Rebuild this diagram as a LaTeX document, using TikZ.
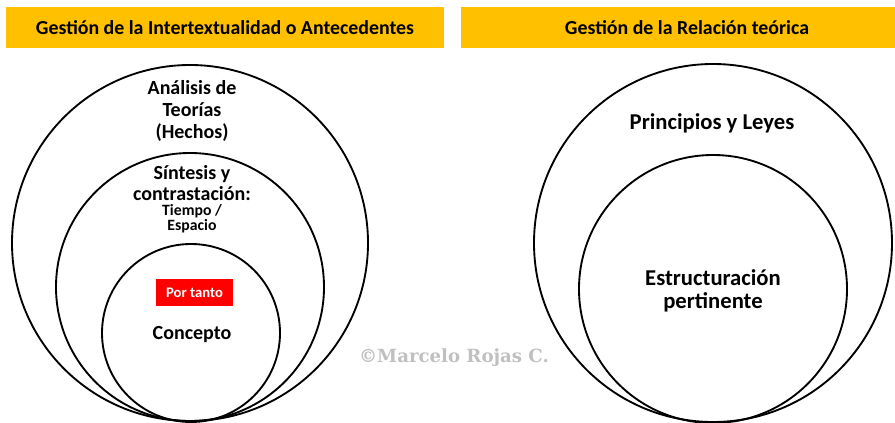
\documentclass[tikz,border=0pt]{standalone}
\usepackage{fontspec}
\setmainfont{Carlito}
\newfontfamily\markfont{DejaVu Serif}
\usetikzlibrary{positioning}
\definecolor{headeryellow}{RGB}{255,192,0}
\definecolor{markgray}{RGB}{192,192,192}
\definecolor{tantored}{RGB}{255,0,0}
\tikzstyle{header} = [fill=headeryellow, minimum height=30.75pt, inner sep=0pt, font=\bfseries\fontsize{14.9}{17}\selectfont]
\tikzstyle{ring} = [circle, draw=black, line width=1.4pt, inner sep=0pt]
\tikzstyle{ringtext} = [align=center, font=\bfseries\fontsize{15}{16.5}\selectfont]
\tikzstyle{bigtext} = [align=center, font=\bfseries\fontsize{17}{17.5}\selectfont]
\tikzstyle{smalltext} = [align=center, font=\bfseries\fontsize{11.8}{11.5}\selectfont]

\begin{document}
\begin{tikzpicture}[x=0.75pt, y=-0.75pt]
\useasboundingbox (0,0) rectangle (895,423);
% headers
\node[header, minimum width=328.5pt] (hleft) at (225,27.5) {Gestión de la Intertextualidad o Antecedentes};
\node[header, minimum width=339pt] (hright) at (687,27.5) {Gestión de la Relación teórica};
% left circles
\node[ring, minimum size=267pt] (analisis) at (190,243) {};
\node[ring, minimum size=201pt] (sintesis) at (190,287) {};
\node[ring, minimum size=133.5pt] (concepto) at (191,333) {};
\node[ringtext] (tanal) at (192,111.5) {Análisis de\\Teorías\\(Hechos)};
\node[ringtext, font=\bfseries\fontsize{15}{15.5}\selectfont] (tsint) at (192,183) {Síntesis y\\contrastación:};
\node[smalltext] (ttiempo) at (192,219) {Tiempo /\\Espacio};
\node[fill=tantored, text=white, minimum width=57.75pt, minimum height=20.25pt, inner sep=0pt, font=\bfseries\fontsize{11}{12}\selectfont] (portanto) at (194.5,292.5) {Por tanto};
\node[ringtext] (tconc) at (192,335) {Concepto};
% right circles
\node[ring, minimum size=268.5pt] (principios) at (713,243) {};
\node[ring, minimum size=201pt] (estruct) at (713,289) {};
\node[bigtext] (tprin) at (712,123) {Principios y Leyes};
\node[bigtext] (testr) at (713,291) {Estructuración\\pertinente};
% watermark
\node[text=markgray, font=\markfont\bfseries\fontsize{13.6}{15}\selectfont] (marca) at (454,358) {©Marcelo Rojas C.};
\end{tikzpicture}
\end{document}
